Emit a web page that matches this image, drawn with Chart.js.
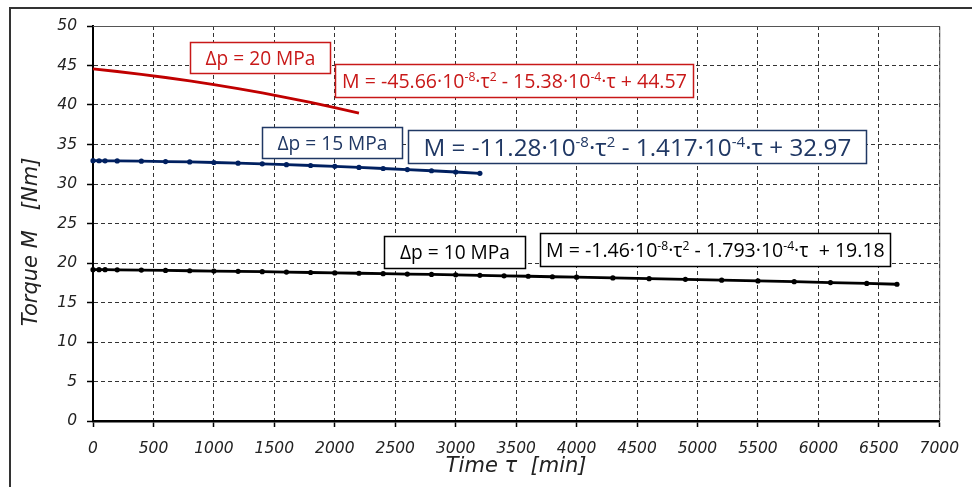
<!DOCTYPE html>
<html>
<head>
<meta charset="utf-8">
<title>Torque M vs time</title>
<script src="https://cdn.jsdelivr.net/npm/chart.js@4.4.1/dist/chart.umd.min.js"></script>
<style>
  html, body { margin: 0; padding: 0; background: #fff; }
  canvas { display: block; }
</style>
</head>
<body>
<canvas id="myChart" width="972" height="487"></canvas>
<script>
// Data: time [min] and torque [Nm]
const time10 = [0, 50, 100, 200, 400, 600, 800, 1000, 1200, 1400, 1600, 1800, 2000, 2200, 2400, 2600, 2800, 3000, 3200, 3400, 3600, 3800, 4000, 4300, 4600, 4900, 5200, 5500, 5800, 6100, 6400, 6650];
const torque10 = [19.16, 19.16, 19.15, 19.13, 19.1, 19.06, 19.02, 18.98, 18.94, 18.9, 18.85, 18.8, 18.75, 18.7, 18.65, 18.6, 18.55, 18.5, 18.44, 18.38, 18.32, 18.26, 18.2, 18.11, 18.02, 17.93, 17.83, 17.73, 17.63, 17.52, 17.41, 17.31];

const time15 = [0, 50, 100, 200, 400, 600, 800, 1000, 1200, 1400, 1600, 1800, 2000, 2200, 2400, 2600, 2800, 3000, 3200];
const torque15 = [32.95, 32.94, 32.93, 32.92, 32.89, 32.84, 32.79, 32.72, 32.64, 32.55, 32.45, 32.34, 32.24, 32.1, 31.96, 31.82, 31.68, 31.52, 31.35];

const time20 = [0, 200, 400, 600, 800, 1000, 1200, 1400, 1600, 1800, 2000, 2200];
const torque20 = [44.57, 44.24, 43.88, 43.48, 43.05, 42.58, 42.07, 41.52, 40.94, 40.32, 39.67, 38.98];

const xTicks = [0, 500, 1000, 1500, 2000, 2500, 3000, 3500, 4000, 4500, 5000, 5500, 6000, 6500, 7000];
const yTicks = [0, 5, 10, 15, 20, 25, 30, 35, 40, 45, 50];

const xTitle = 'Time τ  [min]';
const yTitle = 'Torque M   [Nm]';
const seriesLabels = ['Δp = 10 MPa', 'Δp = 15 MPa', 'Δp = 20 MPa'];

// Fit equations as text runs: [text, superscript?]
const eq10 = [['M = -1.46·10'], ['-8', true], ['·τ'], ['2', true], [' - 1.793·10'], ['-4', true], ['·τ  + 19.18']];
const eq15 = [['M = -11.28·10'], ['-8', true], ['·τ'], ['2', true], [' - 1.417·10'], ['-4', true], ['·τ + 32.97']];
const eq20 = [['M = -45.66·10'], ['-8', true], ['·τ'], ['2', true], [' - 15.38·10'], ['-4', true], ['·τ + 44.57']];

document.addEventListener('DOMContentLoaded', function () {
    const RED = '#c00000';
    const RED_TEXT = '#c81818';
    const BLUE = '#002060';
    const BLUE_TEXT = '#203864';
    const BLACK = '#000000';
    const FONT = '"DejaVu Sans"';
    const BOX_FONT = '"Open Sans"';

    // Label boxes: top-left corner in data units, box and text width in px
    const boxes = [
        { runs: [[seriesLabels[2]]], color: RED_TEXT, x: 801, y: 47.94, w: 140, h: 31, tw: 110 },
        { runs: eq20, color: RED_TEXT, x: 1998, y: 45.16, w: 358, h: 33, tw: 345 },
        { runs: [[seriesLabels[1]]], color: BLUE_TEXT, x: 1395, y: 37.19, w: 140, h: 31, tw: 110 },
        { runs: eq15, color: BLUE_TEXT, x: 2608, y: 36.81, w: 458, h: 33, tw: 428 },
        { runs: [[seriesLabels[0]]], color: BLACK, x: 2410, y: 23.4, w: 141, h: 32, tw: 110 },
        { runs: eq10, color: BLACK, x: 3698, y: 23.78, w: 350, h: 33, tw: 339 }
    ];

    function toPoints(xs, ys) {
        return xs.map((x, i) => ({ x: x, y: ys[i] }));
    }

    // Width of the runs at a given font size
    function runsWidth(ctx, runs, size) {
        let total = 0;
        runs.forEach(r => {
            ctx.font = (r[1] ? size * 0.62 : size) + 'px ' + BOX_FONT;
            total += ctx.measureText(r[0]).width;
        });
        return total;
    }

    // Boxes with superscript text
    const boxPlugin = {
        id: 'labelBoxes',
        afterDatasetsDraw(chart) {
            const ctx = chart.ctx;
            const sx = chart.scales.x;
            const sy = chart.scales.y;
            boxes.forEach(b => {
                const left = Math.round(sx.getPixelForValue(b.x)) + 0.5;
                const top = Math.round(sy.getPixelForValue(b.y)) + 0.5;
                ctx.save();
                ctx.fillStyle = '#fff';
                ctx.fillRect(left, top, b.w, b.h);
                ctx.lineWidth = 1.5;
                ctx.strokeStyle = b.color;
                ctx.strokeRect(left, top, b.w, b.h);

                // fit font size to the text width seen in the picture
                const size = 16 * b.tw / runsWidth(ctx, b.runs, 16);
                let x = left + (b.w - b.tw) / 2;
                const base = top + b.h / 2 + size * 0.36;
                ctx.fillStyle = b.color;
                ctx.textBaseline = 'alphabetic';
                ctx.textAlign = 'left';
                b.runs.forEach(r => {
                    ctx.font = (r[1] ? size * 0.62 : size) + 'px ' + BOX_FONT;
                    ctx.fillText(r[0], x, r[1] ? base - size * 0.36 : base);
                    x += ctx.measureText(r[0]).width;
                });
                ctx.restore();
            });
        }
    };

    // Frame, plot border and axis titles
    const framePlugin = {
        id: 'frame',
        afterDraw(chart) {
            const ctx = chart.ctx;
            const a = chart.chartArea;
            ctx.save();
            ctx.strokeStyle = '#555';
            ctx.lineWidth = 1;
            ctx.beginPath();
            ctx.moveTo(a.left, a.top + 0.5);
            ctx.lineTo(a.right + 0.5, a.top + 0.5);
            ctx.lineTo(a.right + 0.5, a.bottom);
            ctx.stroke();

            ctx.strokeStyle = '#333';
            ctx.lineWidth = 2;
            ctx.beginPath();
            ctx.moveTo(10, 487);
            ctx.lineTo(10, 8);
            ctx.lineTo(972, 8);
            ctx.stroke();

            ctx.fillStyle = '#222';
            ctx.font = 'oblique 21px ' + FONT;
            ctx.textAlign = 'center';
            ctx.textBaseline = 'middle';
            ctx.fillText(xTitle, (a.left + a.right) / 2, 467);
            ctx.translate(32, 242);
            ctx.rotate(-Math.PI / 2);
            ctx.fillText(yTitle, 0, 0);
            ctx.restore();
        }
    };

    const tickFont = { family: FONT, style: 'oblique', size: 15.5 };

    function buildChart() {
        const ctx = document.getElementById('myChart').getContext('2d');
        new Chart(ctx, {
            type: 'scatter',
            data: {
                datasets: [
                    {
                        label: seriesLabels[2],
                        data: toPoints(time20, torque20),
                        showLine: true,
                        borderColor: RED,
                        backgroundColor: RED,
                        borderWidth: 2.8,
                        pointRadius: 0,
                        clip: false
                    },
                    {
                        label: seriesLabels[1],
                        data: toPoints(time15, torque15),
                        showLine: true,
                        borderColor: BLUE,
                        backgroundColor: BLUE,
                        borderWidth: 2.8,
                        pointRadius: 2.6,
                        pointBorderWidth: 0,
                        clip: false
                    },
                    {
                        label: seriesLabels[0],
                        data: toPoints(time10, torque10),
                        showLine: true,
                        borderColor: BLACK,
                        backgroundColor: BLACK,
                        borderWidth: 2.8,
                        pointRadius: 2.6,
                        pointBorderWidth: 0,
                        clip: false
                    }
                ]
            },
            options: {
                responsive: false,
                animation: false,
                layout: { padding: { left: 0, right: 31, top: 26, bottom: 0 } },
                plugins: {
                    legend: { display: false },
                    tooltip: { enabled: false }
                },
                scales: {
                    x: {
                        type: 'linear',
                        min: 0,
                        max: 7000,
                        afterBuildTicks: s => { s.ticks = xTicks.map(v => ({ value: v })); },
                        afterFit: s => { s.height = 66; },
                        ticks: { font: tickFont, color: '#222', padding: 13, maxRotation: 0, autoSkip: false, callback: v => String(v) },
                        grid: { color: '#333', lineWidth: 1, tickLength: 6, tickColor: '#000', tickWidth: 1.5, tickBorderDash: [] },
                        border: { color: '#000', width: 2.5, dash: [4, 3] }
                    },
                    y: {
                        min: 0,
                        max: 50,
                        afterBuildTicks: s => { s.ticks = yTicks.map(v => ({ value: v })); },
                        afterFit: s => { s.width = 93; },
                        ticks: { font: tickFont, color: '#222', padding: 10, callback: v => String(v) },
                        grid: { color: '#333', lineWidth: 1, tickLength: 6, tickColor: '#000', tickWidth: 1.5, tickBorderDash: [] },
                        border: { color: '#000', width: 2, dash: [4, 3] }
                    }
                }
            },
            plugins: [boxPlugin, framePlugin]
        });
    }

    Promise.all([
        document.fonts.load('16px "DejaVu Sans"'),
        document.fonts.load('16px "Open Sans"')
    ]).then(buildChart, buildChart);
});
</script>
</body>
</html>
